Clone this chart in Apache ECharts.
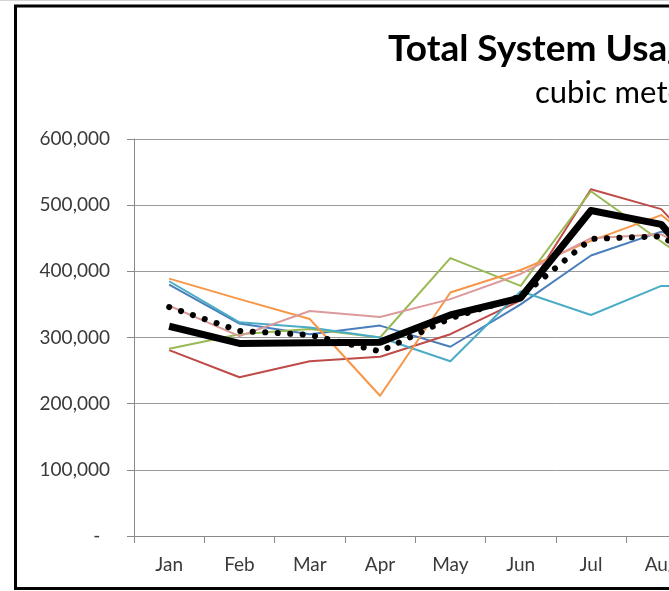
<!DOCTYPE html>
<html><head><meta charset="utf-8">
<script src="https://cdn.jsdelivr.net/npm/echarts@6/dist/echarts.min.js"></script>
<style>
html,body{margin:0;padding:0;overflow:hidden;background:#fff;width:669px;height:591px}
#c{width:1100px;height:591px}
</style>
</head><body><div id="c"></div>
<script>
// Categories (only Jan–Aug and a sliver of Sep are visible in the reference)
const months = ['Jan','Feb','Mar','Apr','May','Jun','Jul','Aug','Sep','Oct','Nov','Dec'];
// Y tick values
const yTicks = [0, 100000, 200000, 300000, 400000, 500000, 600000];
// Series values (cubic metres)
const seriesBlue   = [380000, 321000, 305000, 318000, 286000, 350000, 424000, 460000, 420000];
const seriesRed    = [281000, 240000, 264000, 271000, 305000, 356000, 524000, 494000, 380000];
const seriesGreen  = [283000, 305000, 313000, 300000, 420000, 378000, 521000, 445000, 370000];
const seriesTeal   = [385000, 323000, 315000, 300000, 264000, 370000, 334000, 378000, 378000];
const seriesOrange = [389000, 358000, 328000, 212000, 368000, 402000, 446000, 485000, 400000];
const seriesPink   = [348000, 302000, 340000, 331000, 358000, 396000, 450000, 456000, 400000];
const seriesAvg    = [317000, 291000, 292000, 293000, 334000, 360000, 492000, 471000, 350000];
const seriesTrend  = [346000, 310000, 304000, 279000, 329000, 362000, 449000, 453000, 390000];

const titleText = 'Total System Usage';
const subtitleText = 'cubic meters';

const chart = echarts.init(document.getElementById('c'), null, {renderer: 'canvas'});
const FONT = 'Lato, "Open Sans", sans-serif';
function line(name, data, color, width, extra) {
  return Object.assign({
    name, type: 'line', data, symbol: 'none', smooth: false,
    lineStyle: {color, width, join: 'round'},
    itemStyle: {color}, z: 2
  }, extra || {});
}
chart.setOption({
  animation: false,
  backgroundColor: '#fff',
  grid: {left: 134, top: 139, width: 843.6, height: 397, containLabel: false},
  graphic: [
    {type: 'line', shape: {x1: 0, y1: 0.5, x2: 1100, y2: 0.5}, style: {stroke: '#d4d4d4', lineWidth: 1}},
    {type: 'rect', shape: {x: 15.5, y: 6, width: 1200, height: 582.5}, style: {fill: 'none', stroke: '#000', lineWidth: 3}, z: 10},
    {type: 'text', left: 388, top: 31, style: {text: titleText, font: 'bold 37px ' + FONT, fill: '#000'}},
    {type: 'text', left: 535, top: 77, style: {text: subtitleText, font: '31px ' + FONT, fill: '#000'}}
  ],
  xAxis: {
    type: 'category', data: months, boundaryGap: true,
    axisLine: {lineStyle: {color: '#8a8a8a', width: 1}},
    axisTick: {show: true, length: 7, lineStyle: {color: '#8a8a8a'}},
    axisLabel: {color: '#3a3a3a', fontSize: 19, fontFamily: FONT, margin: 19},
    splitLine: {show: false}
  },
  yAxis: {
    type: 'value', min: yTicks[0], max: yTicks[yTicks.length - 1], interval: 100000,
    axisLine: {show: true, lineStyle: {color: '#8a8a8a', width: 1}},
    axisTick: {show: true, length: 7, lineStyle: {color: '#8a8a8a'}},
    axisLabel: {
      color: '#3a3a3a', fontSize: 19, fontFamily: FONT, margin: 24,
      formatter: v => v === 0 ? '-  ' : v.toLocaleString('en-US')
    },
    splitLine: {show: true, lineStyle: {color: '#9a9a9a', width: 1}}
  },
  series: [
    line('Blue', seriesBlue, '#4A7EBB', 2),
    line('Red', seriesRed, '#BE4B48', 2),
    line('Green', seriesGreen, '#98B954', 2),
    line('Teal', seriesTeal, '#4BACC6', 2),
    line('Orange', seriesOrange, '#F79646', 2),
    line('Pink', seriesPink, '#DC9A9A', 2),
    line('Trend', seriesTrend, '#000', 6, {lineStyle: {color: '#000', width: 6, type: [0.1, 12.4], cap: 'round'}, z: 3}),
    line('Average', seriesAvg, '#000', 7, {z: 4})
  ]
});
</script>
</body></html>
